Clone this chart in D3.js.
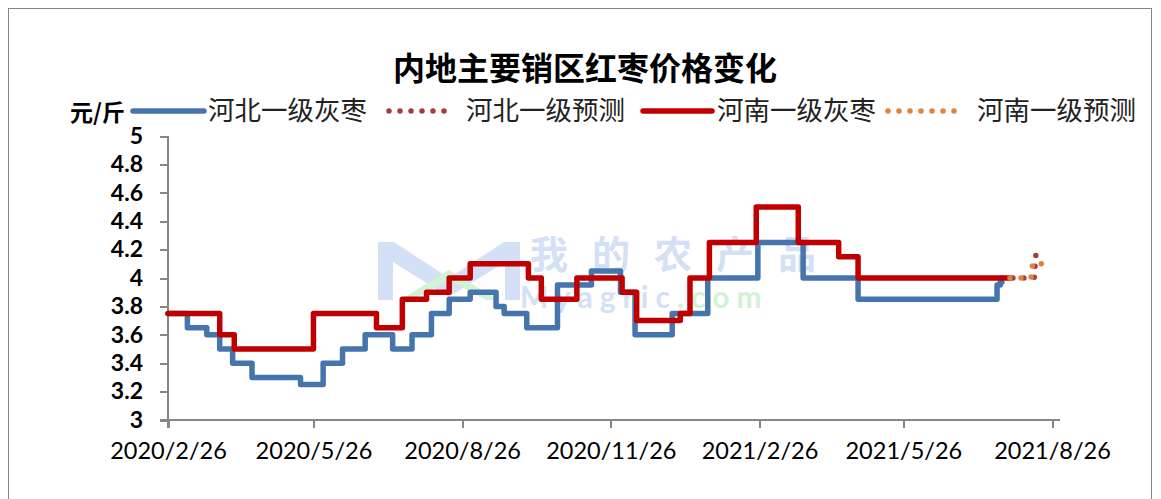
<!DOCTYPE html>
<html><head><meta charset="utf-8">
<script src="https://cdn.jsdelivr.net/npm/d3@7"></script>
<style>body{margin:0;background:#fff;overflow:hidden}</style>
</head><body><svg id="c" width="1161" height="499"></svg>
<script>
// ---------- data ----------
const chartTitle = "内地主要销区红枣价格变化";
const unitLabel = "元/斤";
const seriesNames = ["河北一级灰枣", "河北一级预测", "河南一级灰枣", "河南一级预测"];
const xTickLabels = ["2020/2/26", "2020/5/26", "2020/8/26", "2020/11/26", "2021/2/26", "2021/5/26", "2021/8/26"];
const yTickValues = [3, 3.2, 3.4, 3.6, 3.8, 4, 4.2, 4.4, 4.6, 4.8, 5];

const hebeiDates = ["2020-02-26","2020-03-09","2020-03-21","2020-03-29","2020-04-06","2020-04-18","2020-05-18","2020-06-01","2020-06-13","2020-06-27","2020-07-14","2020-07-26","2020-08-07","2020-08-18","2020-08-31","2020-09-16","2020-09-21","2020-10-05","2020-10-24","2020-11-14","2020-12-02","2020-12-11","2021-01-03","2021-01-25","2021-02-25","2021-03-25","2021-04-28","2021-07-23","2021-07-25","2021-07-26"];
const hebeiValues = [3.75,3.65,3.6,3.5,3.4,3.3,3.25,3.4,3.5,3.6,3.5,3.6,3.75,3.85,3.9,3.8,3.75,3.65,3.95,4.05,3.9,3.6,3.75,4.0,4.25,4.0,3.85,3.95,3.97,3.97];

const hebeiForecastDates = ["2021-07-26","2021-08-15","2021-08-16","2021-08-21"];
const hebeiForecastValues = [4.0,4.0,4.16,4.2];

const henanDates = ["2020-02-26","2020-03-29","2020-04-07","2020-05-26","2020-07-04","2020-07-20","2020-08-04","2020-08-18","2020-08-31","2020-10-06","2020-10-14","2020-11-05","2020-12-03","2020-12-12","2021-01-08","2021-01-14","2021-01-26","2021-02-24","2021-03-22","2021-04-16","2021-04-28","2021-07-31"];
const henanValues = [3.75,3.6,3.5,3.75,3.65,3.85,3.9,4.0,4.1,4.0,3.85,4.0,3.9,3.7,3.75,4.0,4.25,4.5,4.25,4.15,4.0,4.0];

const henanForecastDates = ["2021-07-31","2021-08-13","2021-08-14","2021-08-22"];
const henanForecastValues = [4.0,4.0,4.1,4.1];

// ---------- setup ----------
const svg = d3.select("#c");
const parseTick = d3.timeParse("%Y/%m/%d");
const parseDay = d3.timeParse("%Y-%m-%d");
const tickDates = xTickLabels.map(parseTick);

const x = d3.scaleTime().domain([tickDates[0], tickDates[tickDates.length - 1]]).range([168, 1052]);
const y = d3.scaleLinear().domain([3, 5]).range([420, 136]);

const colors = ["#4675AD", "#A83C3C", "#C00000", "#E1823D"];

// outer frame
svg.append("rect").attr("x", 8.5).attr("y", 8.5).attr("width", 1143).attr("height", 500)
  .attr("fill", "none").attr("stroke", "#868686").attr("stroke-width", 1);

// watermark
const wm = svg.append("g").attr("opacity", 0.5);
wm.append("path").attr("d", "M378,300 L378,242 L394,242 L449,278 L504,242 L520,242 L520,300 L505,300 L505,262 L449,297 L393,262 L393,300 Z")
  .attr("fill", "#a9c2ec");
wm.append("path").attr("d", "M400,300 L449,270 L498,300 L486,300 L449,280 L412,300 Z").attr("fill", "#a8e6a8");
wm.append("text").attr("x", 530).attr("y", 268).attr("font-family", "Noto Sans CJK SC").attr("font-size", 38)
  .attr("font-weight", 700).attr("letter-spacing", 24).attr("fill", "#a9c2ec").text("我的农产品");
const wmt = wm.append("text").attr("x", 520).attr("y", 308).attr("font-family", "Lato").attr("font-size", 30)
  .attr("font-weight", 700).attr("letter-spacing", 7);
wmt.append("tspan").attr("fill", "#a9c2ec").text("Myagric");
wmt.append("tspan").attr("fill", "#a8e6a8").text(".com");

// title
svg.append("text").attr("x", 585).attr("y", 80).attr("text-anchor", "middle")
  .attr("font-family", "Noto Sans CJK SC").attr("font-weight", 700).attr("font-size", 32)
  .attr("fill", "#000").text(chartTitle);

// axes
const yAxis = d3.axisLeft(y).tickValues(yTickValues).tickSize(8).tickPadding(17)
  .tickFormat(d => d3.format("")(+d.toFixed(1)));
const gy = svg.append("g").attr("transform", "translate(168,0)").call(yAxis);
gy.select(".domain").attr("stroke", "#868686").attr("stroke-width", 2).attr("d", "M0,136V428");
gy.selectAll(".tick line").attr("stroke", "#868686").attr("stroke-width", 2);
gy.selectAll(".tick text").attr("font-family", "Lato").attr("font-weight", 700).attr("font-size", 23).attr("fill", "#000");

const xAxis = d3.axisBottom(x).tickValues(tickDates).tickSize(8).tickPadding(14)
  .tickFormat((d, i) => xTickLabels[i]);
const gx = svg.append("g").attr("transform", "translate(0,420)").call(xAxis);
gx.select(".domain").attr("stroke", "#868686").attr("stroke-width", 2).attr("d", "M160,0H1060");
gx.selectAll(".tick line").attr("stroke", "#868686").attr("stroke-width", 2);
gx.selectAll(".tick text").attr("font-family", "Lato").attr("font-size", 23.5).attr("fill", "#000");
svg.selectAll(".domain, .tick line").attr("shape-rendering", "crispEdges");

// series
function pts(ds, vs) { return ds.map((d, i) => ({ date: parseDay(d), value: vs[i] })); }
const stepLine = d3.line().x(d => x(d.date)).y(d => y(d.value)).curve(d3.curveStepAfter);
const plainLine = d3.line().x(d => x(d.date)).y(d => y(d.value));

svg.append("path").datum(pts(hebeiDates, hebeiValues)).attr("d", stepLine)
  .attr("fill", "none").attr("stroke", colors[0]).attr("stroke-width", 5.5)
  .attr("stroke-linejoin", "round").attr("stroke-linecap", "round");
svg.append("path").datum(pts(hebeiForecastDates, hebeiForecastValues)).attr("d", plainLine)
  .attr("fill", "none").attr("stroke", colors[1]).attr("stroke-width", 5.5)
  .attr("stroke-linecap", "round").attr("stroke-dasharray", "0 11");
svg.append("path").datum(pts(henanDates, henanValues)).attr("d", stepLine)
  .attr("fill", "none").attr("stroke", colors[2]).attr("stroke-width", 5.5)
  .attr("stroke-linejoin", "round").attr("stroke-linecap", "round");
svg.append("path").datum(pts(henanForecastDates, henanForecastValues)).attr("d", plainLine)
  .attr("fill", "none").attr("stroke", colors[3]).attr("stroke-width", 5.5)
  .attr("stroke-linecap", "round").attr("stroke-dasharray", "0 11");

// legend
svg.append("text").attr("x", 70).attr("y", 121).attr("font-family", "Noto Sans CJK SC")
  .attr("font-weight", 700).attr("font-size", 23).attr("fill", "#000").text(unitLabel);
const legendItems = [
  { x0: 133, x1: 204, tx: 208, dotted: false },
  { x0: 389, x1: 455, tx: 466, dotted: true },
  { x0: 643, x1: 712, tx: 717, dotted: false },
  { x0: 888, x1: 955, tx: 977, dotted: true }
];
const lg = svg.append("g").selectAll("g").data(seriesNames).join("g");
lg.append("line").attr("x1", (d, i) => legendItems[i].x0).attr("x2", (d, i) => legendItems[i].x1)
  .attr("y1", 111).attr("y2", 111).attr("stroke", (d, i) => colors[i]).attr("stroke-width", 5.5)
  .attr("stroke-linecap", "round").attr("stroke-dasharray", (d, i) => legendItems[i].dotted ? "0 11" : null);
lg.append("text").attr("x", (d, i) => legendItems[i].tx).attr("y", 120)
  .attr("font-family", "Noto Sans CJK SC").attr("font-size", 26.5).attr("fill", "#222").text(d => d);
</script>
</body></html>
